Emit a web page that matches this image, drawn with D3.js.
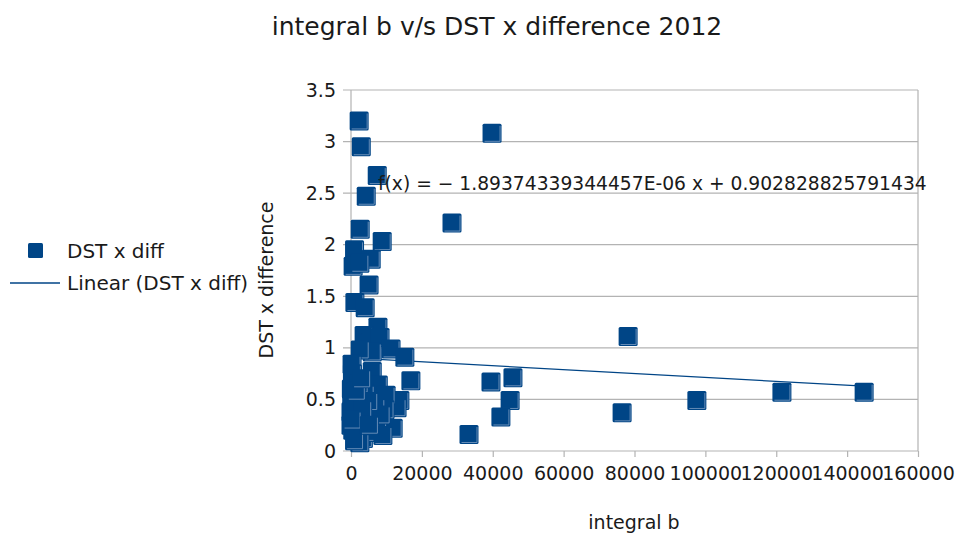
<!DOCTYPE html>
<html>
<head>
<meta charset="utf-8">
<script src="https://cdn.jsdelivr.net/npm/d3@7"></script>
<style>
  body { margin: 0; background: #fff; }
  text { font-family: "DejaVu Sans", sans-serif; fill: #1a1a1a; }
</style>
</head>
<body>
<div class="chart"></div>
<script>
// integral b (x) and DST x difference (y)
const integralB = [
  39800, 28500, 78200, 39500, 45700, 44900, 42300, 33300, 76500, 97600, 121600, 144800,
  2300, 2900, 7400, 4300, 2600, 8800, 1000, 5700, 600, 2500, 5100, 1100, 4000, 7600, 3700, 5500,
  8200, 11300, 15200, 6000, 2600, 300, 400, 6000, 7700, 16900, 13800, 13000, 11900, 9900, 9600,
  100, 700, 2000, 0, 1300, 3000, 0, 500, 1700, 3500, 4700, 6300, 7500, 5500, 2500, 1000,
  7000, 4000, 2300, 8500, 200, 5000, 3300, 9000, 300, 1500, 3000, 5200
]
const dstDiff = [
  3.08, 2.21, 1.11, 0.67, 0.71, 0.49, 0.33, 0.16, 0.37, 0.49, 0.57, 0.57,
  3.20, 2.95, 2.67, 2.47, 2.15, 2.03, 1.95, 1.86, 1.79, 1.82, 1.61, 1.44, 1.39, 1.20, 1.12, 1.05,
  1.10, 0.99, 0.91, 0.96, 0.98, 0.84, 0.75, 0.77, 0.64, 0.68, 0.49, 0.42, 0.22, 0.54, 0.40,
  0.60, 0.52, 0.45, 0.38, 0.33, 0.28, 0.25, 0.20, 0.14, 0.12, 0.36, 0.30, 0.22, 0.18, 0.08, 0.10,
  0.42, 0.55, 0.65, 0.35, 0.45, 0.48, 0.40, 0.15, 0.30, 0.58, 0.70, 0.25
]
const xTicks = [0, 20000, 40000, 60000, 80000, 100000, 120000, 140000, 160000]
const yTicks = [0, 0.5, 1, 1.5, 2, 2.5, 3, 3.5]
const slope = -1.89374339344457E-06
const intercept = 0.902828825791434
const seriesName = "DST x diff"

const width = 955, height = 536
const margin = {top: 90, right: 37, bottom: 85, left: 351}
const blue = "#004586", grid = "#b3b3b3"

const svg = d3.select(".chart").append("svg")
  .attr("width", width)
  .attr("height", height)

const x = d3.scaleLinear().domain([0, 160000]).range([margin.left, width - margin.right])
const y = d3.scaleLinear().domain([0, 3.5]).range([height - margin.bottom, margin.top])

// grid + frame
svg.append("g")
  .selectAll("line")
  .data(yTicks)
  .enter().append("line")
    .attr("x1", x(0) - 8).attr("x2", x(160000))
    .attr("y1", d => y(d)).attr("y2", d => y(d))
    .attr("stroke", grid).attr("stroke-width", 1.2)

svg.append("line")
  .attr("x1", x(0)).attr("x2", x(0))
  .attr("y1", y(0)).attr("y2", y(3.5))
  .attr("stroke", grid).attr("stroke-width", 1.2)
svg.append("line")
  .attr("x1", x(160000)).attr("x2", x(160000))
  .attr("y1", y(0)).attr("y2", y(3.5))
  .attr("stroke", grid).attr("stroke-width", 1.2)

// axes
const xAxis = svg.append("g")
  .attr("transform", "translate(0," + y(0) + ")")
  .call(d3.axisBottom(x).tickValues(xTicks).tickFormat(d3.format("d")).tickSize(6).tickPadding(10))
xAxis.select(".domain").remove()
xAxis.selectAll("line").attr("stroke", grid).attr("stroke-width", 1.2)
xAxis.selectAll("text").attr("font-size", 19).attr("fill", "#1a1a1a")
  .attr("font-family", "DejaVu Sans")

const yAxis = svg.append("g")
  .attr("transform", "translate(" + (x(0) - 8) + ",0)")
  .call(d3.axisLeft(y).tickValues(yTicks).tickFormat(d3.format("")).tickSize(0).tickPadding(7))
yAxis.select(".domain").remove()
yAxis.selectAll("text").attr("font-size", 19).attr("fill", "#1a1a1a")
  .attr("font-family", "DejaVu Sans")

// trend line (under the markers)
const xExt = d3.extent(integralB)
svg.append("line")
  .attr("x1", x(xExt[0])).attr("y1", y(slope * xExt[0] + intercept))
  .attr("x2", x(xExt[1])).attr("y2", y(slope * xExt[1] + intercept))
  .attr("stroke", blue).attr("stroke-width", 1.3)

// markers
const pts = integralB.map((v, i) => ({x: v, y: dstDiff[i]}))
const s = 19
const mk = svg.append("g")
  .selectAll("g")
  .data(pts)
  .enter().append("g")
    .attr("transform", d => "translate(" + x(d.x) + "," + y(d.y) + ")")
mk.append("rect")
  .attr("x", -s / 2).attr("y", -s / 2)
  .attr("width", s).attr("height", s)
  .attr("rx", 1.5)
  .attr("fill", blue)
mk.append("path")
  .attr("d", "M" + (s / 2 - 1.5) + "," + (-s / 2 + 2) + "V" + (s / 2 - 1.5) + "H" + (-s / 2 + 2))
  .attr("fill", "none")
  .attr("stroke", "#6f93bb")
  .attr("stroke-width", 0.9)

// equation
svg.append("text")
  .attr("x", 378).attr("y", 190)
  .attr("font-size", 18.7)
  .text("f(x) = \u2212 1.89374339344457E-06 x + 0.902828825791434")

// titles
svg.append("text")
  .attr("x", 497).attr("y", 35)
  .attr("text-anchor", "middle")
  .attr("font-size", 25)
  .text("integral b v/s DST x difference 2012")

svg.append("text")
  .attr("x", 634).attr("y", 529)
  .attr("text-anchor", "middle")
  .attr("font-size", 19)
  .text("integral b")

svg.append("text")
  .attr("transform", "translate(273,280) rotate(-90)")
  .attr("text-anchor", "middle")
  .attr("font-size", 19)
  .text("DST x difference")

// legend
const lg = svg.append("g")
lg.append("rect")
  .attr("x", 28).attr("y", 243).attr("width", 15).attr("height", 15)
  .attr("rx", 1.5).attr("fill", blue)
lg.append("text").attr("x", 67).attr("y", 258).attr("font-size", 20).text(seriesName)
lg.append("line")
  .attr("x1", 10).attr("x2", 60).attr("y1", 283).attr("y2", 283)
  .attr("stroke", blue).attr("stroke-width", 1.3)
lg.append("text").attr("x", 67).attr("y", 290).attr("font-size", 20).text("Linear (" + seriesName + ")")
</script>
</body>
</html>
